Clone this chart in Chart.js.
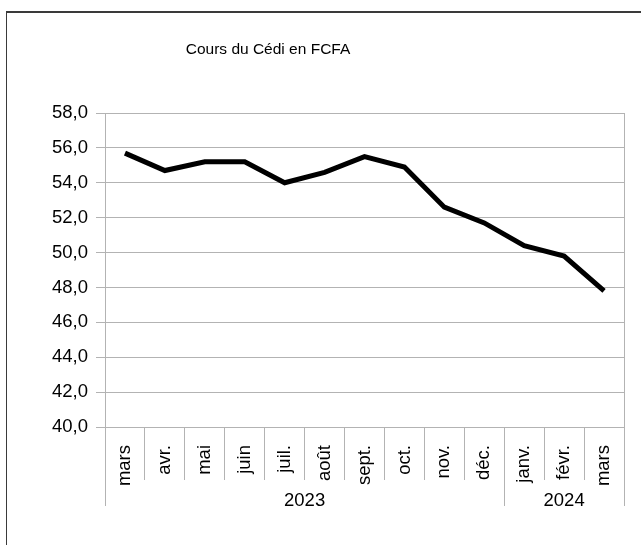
<!DOCTYPE html>
<html>
<head>
<meta charset="utf-8">
<script src="https://cdn.jsdelivr.net/npm/chart.js@4"></script>
<style>
  html, body { margin: 0; padding: 0; background: #fff; overflow: hidden; }
  #frame {
    position: absolute; left: 6px; top: 11px; width: 800px; height: 700px;
    border: 1px solid #3a3a3a; border-top-width: 2px;
  }
  #wrap { position: absolute; left: 0; top: 0; width: 641px; height: 545px; }
</style>
</head>
<body>
<div id="frame"></div>
<div id="wrap"><canvas id="chart" width="641" height="545"></canvas></div>
<script>
const chartTitle = "Cours du Cédi en FCFA";
const months = ["mars", "avr.", "mai", "juin", "juil.", "août", "sept.", "oct.", "nov.", "déc.", "janv.", "févr.", "mars"];
const rates = [55.7, 54.7, 55.2, 55.2, 54.0, 54.6, 55.5, 54.9, 52.6, 51.7, 50.4, 49.8, 47.8];
const yearLabels = ["2023", "2024"];
const yearSpans = [10, 3];

const FONT = "'Liberation Sans', Arial, sans-serif";
const GRID = "#b3b3b3";

// draws the title, the right border, and the year row under the month labels
const extras = {
  id: "extras",
  afterDraw(chart) {
    const ctx = chart.ctx;
    const area = chart.chartArea;
    const x = chart.scales.x;
    ctx.save();
    ctx.strokeStyle = GRID;
    ctx.lineWidth = 1;
    ctx.beginPath();
    ctx.moveTo(area.right + 0.5, area.top);
    ctx.lineTo(area.right + 0.5, area.bottom);
    ctx.stroke();

    let start = 0;
    ctx.fillStyle = "#000";
    ctx.font = "18.5px " + FONT;
    ctx.textAlign = "center";
    ctx.textBaseline = "middle";
    const edges = [start];
    yearSpans.forEach((n) => { start += n; edges.push(start); });
    edges.forEach((i) => {
      const px = Math.round(x.getPixelForValue(i - 0.5)) + 0.5;
      ctx.beginPath();
      ctx.moveTo(px, area.bottom + 53);
      ctx.lineTo(px, area.bottom + 79);
      ctx.stroke();
    });
    yearLabels.forEach((lab, k) => {
      const a = x.getPixelForValue(edges[k] - 0.5);
      const b = x.getPixelForValue(edges[k + 1] - 0.5);
      ctx.fillText(lab, (a + b) / 2, area.bottom + 74);
    });

    ctx.font = "15.5px " + FONT;
    ctx.fillText(chartTitle, 268, 50);
    ctx.restore();
  },
};

new Chart(document.getElementById("chart"), {
  type: "line",
  data: {
    labels: months,
    datasets: [
      {
        data: rates,
        borderColor: "#000",
        borderWidth: 5,
        borderCapStyle: "butt",
        borderJoinStyle: "miter",
        pointRadius: 0,
        tension: 0,
        fill: false,
      },
    ],
  },
  options: {
    responsive: false,
    animation: false,
    layout: { padding: { left: 40, top: 113, right: 17, bottom: 0 } },
    plugins: {
      legend: { display: false },
      title: { display: false },
      tooltip: { enabled: false },
    },
    scales: {
      x: {
        offset: true,
        grid: {
          offset: true,
          drawOnChartArea: false,
          color: GRID,
          tickLength: 53,
        },
        border: { color: GRID },
        ticks: {
          autoSkip: false,
          minRotation: 90,
          maxRotation: 90,
          padding: -35,
          color: "#000",
          font: { family: FONT, size: 18.5 },
        },
        afterFit: (s) => { s.height = 118; },
      },
      y: {
        min: 40,
        max: 58,
        grid: { color: GRID, tickLength: 9 },
        border: { color: GRID },
        ticks: {
          stepSize: 2,
          padding: 8,
          color: "#000",
          font: { family: FONT, size: 18.5 },
          callback: (v) => v.toFixed(1).replace(".", ","),
        },
        afterFit: (s) => { s.width = 65; },
      },
    },
  },
  plugins: [extras],
});
</script>
</body>
</html>
